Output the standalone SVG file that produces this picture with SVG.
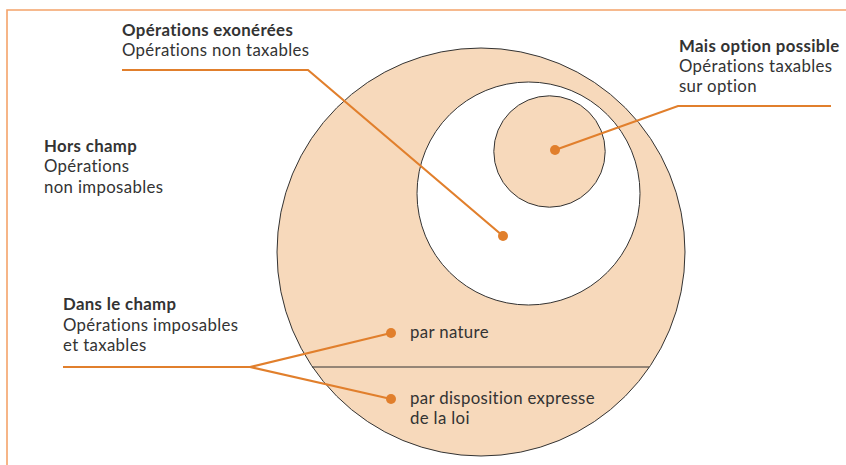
<svg xmlns="http://www.w3.org/2000/svg" width="846" height="465" viewBox="0 0 846 465">
<style>
.t{font-family:Lato,"Open Sans","Liberation Sans",sans-serif;font-size:16.8px;letter-spacing:0.35px;fill:#333;}
.b{font-weight:bold;}
.c{stroke:#333;stroke-width:1;}
.l{fill:none;stroke:#e17f2c;stroke-width:2.2;stroke-linejoin:miter;}
.d{fill:#e17f2c;}
</style>
<rect width="846" height="465" fill="#fff"/>
<path d="M7 465 V10 H846" fill="none" stroke="#f4a36a" stroke-width="1.6"/>
<g id="outer"><circle cx="481" cy="252" r="204" fill="#f7d9bb" class="c"/>
<line x1="312" y1="367" x2="649" y2="367" class="c"/></g>
<g id="middle"><circle cx="528.5" cy="193.5" r="111.5" fill="#fff" class="c"/></g>
<g id="inner"><circle cx="549.5" cy="151.5" r="55.7" fill="#f7d9bb" class="c"/></g>
<g id="connectors">
<polyline points="122,70 308,70 503,236" class="l"/>
<polyline points="831,106 678,106 555,150" class="l"/>
<polyline points="63,367 250,367 391,333" class="l"/>
<polyline points="250,367 391,399" class="l"/>
<circle cx="503" cy="236" r="5" class="d"/>
<circle cx="555" cy="150" r="5" class="d"/>
<circle cx="391" cy="333" r="5" class="d"/>
<circle cx="391" cy="399" r="5" class="d"/>
</g>
<g id="exonerees"><text class="t b" x="122" y="36">Opérations exonérées</text>
<text class="t" x="122" y="56">Opérations non taxables</text></g>
<g id="option"><text class="t b" x="679" y="52">Mais option possible</text>
<text class="t" x="679" y="72">Opérations taxables</text>
<text class="t" x="679" y="92">sur option</text></g>
<g id="hors"><text class="t b" x="44" y="152">Hors champ</text>
<text class="t" x="44" y="172">Opérations</text>
<text class="t" x="44" y="193">non imposables</text></g>
<g id="dans"><text class="t b" x="63" y="310">Dans le champ</text>
<text class="t" x="63" y="331">Opérations imposables</text>
<text class="t" x="63" y="351">et taxables</text></g>
<g id="nature"><text class="t" x="410" y="338">par nature</text></g>
<g id="loi"><text class="t" x="410" y="404">par disposition expresse</text>
<text class="t" x="410" y="424">de la loi</text></g>
</svg>
